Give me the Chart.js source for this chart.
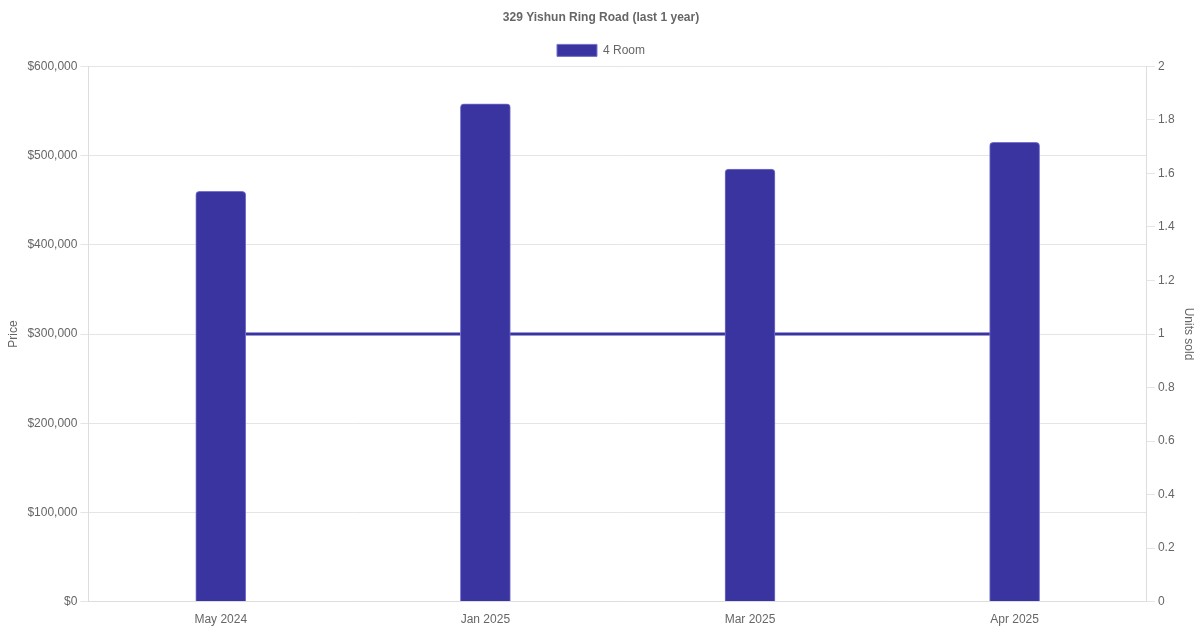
<!DOCTYPE html>
<html>
<head>
<meta charset="utf-8">
<script src="https://cdn.jsdelivr.net/npm/chart.js@4"></script>
<style>
  html, body { margin: 0; padding: 0; background: #fff; }
  #wrap { width: 1200px; height: 630px; }
</style>
</head>
<body>
<div id="wrap"><canvas id="myChart"></canvas></div>
<script>
var months = ["May 2024", "Jan 2025", "Mar 2025", "Apr 2025"];
var prices = [460000, 558000, 485000, 515000];
var unitsSold = [1, 1, 1, 1];
var barColor = 'rgb(57, 52, 160)';

Chart.defaults.color = '#666';
Chart.defaults.font.family = '"Liberation Sans", Arial, Helvetica, sans-serif';
Chart.defaults.font.size = 12;

var ctx = document.getElementById('myChart').getContext('2d');

var myChart = new Chart(ctx, {
  type: 'bar',
  data: {
    labels: months,
    datasets: [{
      label: '4 Room',
      data: prices,
      backgroundColor: barColor,
      borderColor: 'rgba(120, 115, 205, 1)',
      borderWidth: 1,
      borderRadius: 4,
      borderSkipped: 'bottom',
      barThickness: 50,
      yAxisID: 'y',
      order: 1
    }, {
      type: 'line',
      label: 'Units sold',
      data: unitsSold,
      borderColor: barColor,
      backgroundColor: barColor,
      borderWidth: 3,
      pointRadius: 0,
      fill: false,
      yAxisID: 'y1',
      order: 2
    }]
  },
  options: {
    responsive: true,
    maintainAspectRatio: false,
    animation: false,
    layout: { padding: { left: 2, right: 0, top: 0, bottom: 0 } },
    plugins: {
      title: {
        display: true,
        text: '329 Yishun Ring Road (last 1 year)',
        font: { weight: 'bold', size: 12 },
        padding: { top: 10, bottom: 10 }
      },
      legend: {
        labels: {
          boxWidth: 40,
          boxHeight: 12,
          filter: function (item) { return item.datasetIndex === 0; }
        }
      },
      tooltip: { enabled: false }
    },
    scales: {
      x: {
        grid: { display: false },
        border: { color: '#ddd' }
      },
      y: {
        position: 'left',
        min: 0,
        max: 600000,
        ticks: {
          stepSize: 100000,
          callback: function (v) { return '$' + v.toLocaleString('en-US'); }
        },
        title: { display: true, text: 'Price' },
        grid: { color: '#e5e5e5' },
        border: { color: '#ddd' }
      },
      y1: {
        position: 'right',
        min: 0,
        max: 2,
        ticks: {
          stepSize: 0.2,
          callback: function (v) { return String(Math.round(v * 10) / 10); }
        },
        title: { display: true, text: 'Units sold' },
        grid: { drawOnChartArea: false, color: '#e5e5e5' },
        border: { color: '#ddd' }
      }
    }
  }
});
</script>
</body>
</html>
